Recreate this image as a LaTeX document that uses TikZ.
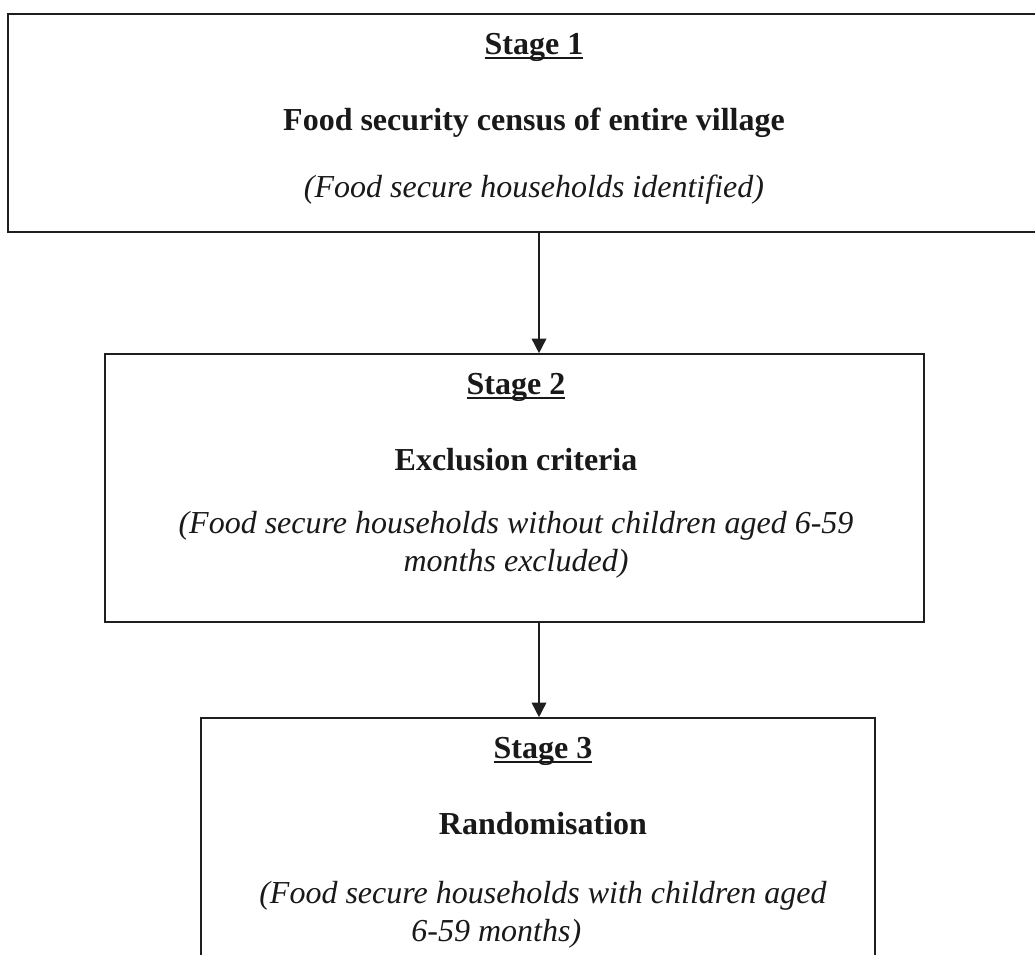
\documentclass[tikz,border=0pt]{standalone}
\usepackage{fontspec}
\setmainfont{Liberation Serif}
\usetikzlibrary{positioning,arrows.meta}
\newcommand{\stageline}[1]{{\setbox0\hbox{#1}\rlap{\rule[-3.2pt]{\wd0}{1.3pt}}\box0}}

\begin{document}
\begin{tikzpicture}[
  x=0.75pt, y=-0.75pt,
  stagebox/.style={draw=black!88, line width=1.2pt, rectangle, inner sep=0pt},
  stagetext/.style={anchor=north, align=center, inner sep=0pt, text=black!90, font=\fontsize{24}{28.5}\selectfont},
  arr/.style={-{Triangle[length=11pt, width=11pt]}, line width=1.2pt, draw=black!88}
]
\useasboundingbox (0,0) rectangle (1035,955);
\clip (0,0) rectangle (1035,955);
\fill[white] (0,0) rectangle (1035,955);
\node[stagebox, minimum width=789pt, minimum height=163.5pt] (box1) at (534,123) {};
\node[stagebox, minimum width=614.25pt, minimum height=201pt] (box2) at (514.5,488) {};
\node[stagebox, minimum width=505.5pt, minimum height=204pt] (box3) at (538,854) {};
\node[stagetext] (txt1) at (534,33) {\textbf{\stageline{Stage 1}}\\[28.5pt]\textbf{Food security census of entire village}\\[21.75pt]\textit{(Food secure households identified)}};
\node[stagetext] (txt2) at (516,373) {\textbf{\stageline{Stage 2}}\\[28.5pt]\textbf{Exclusion criteria}\\[19pt]\textit{(Food secure households without children aged 6-59}\\\textit{months excluded)}};
\node[stagetext] (txt3) at (543,737) {\textbf{\stageline{Stage 3}}\\[28.5pt]\textbf{Randomisation}\\[23pt]\textit{(Food secure households with children aged}\\\textit{6-59 months)}\hspace*{70pt}};
\coordinate (spine) at (539,0);
\draw[arr] (box1.south -| spine) -- (box2.north -| spine);
\draw[arr] (box2.south -| spine) -- (box3.north -| spine);
\end{tikzpicture}
\end{document}
